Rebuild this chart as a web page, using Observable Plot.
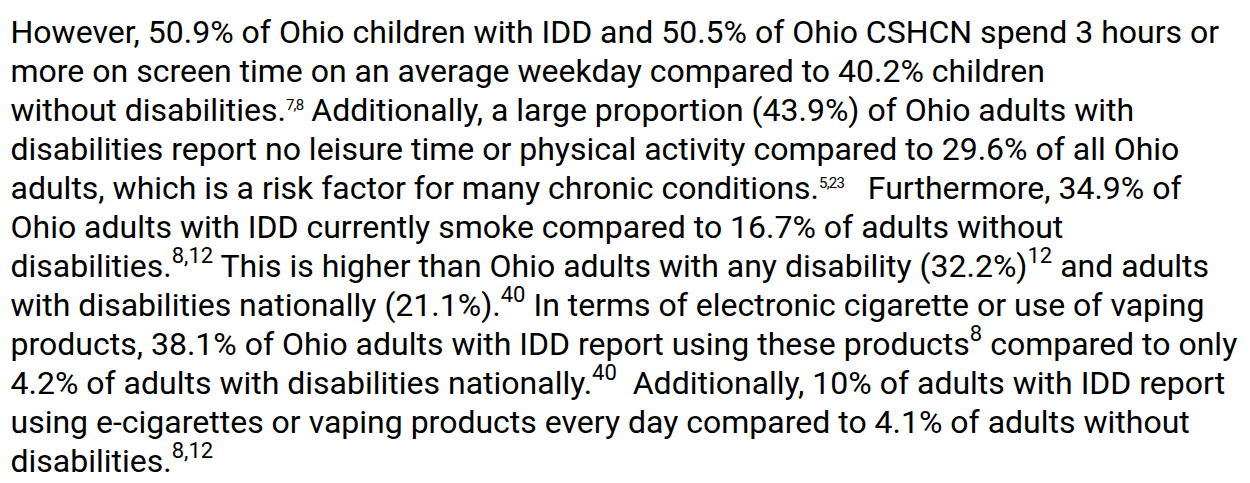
<!DOCTYPE html>
<html>
<head>
<meta charset="utf-8">
<script src="https://cdn.jsdelivr.net/npm/d3@7"></script>
<script src="https://cdn.jsdelivr.net/npm/@observablehq/plot@0.6"></script>
<style>
  html, body { margin: 0; padding: 0; background: #ffffff; }
  #chart svg text { white-space: pre; }
</style>
</head>
<body>
<div id="chart"></div>
<script>
// Paragraph lines as they break in the reference.
// {..} = small superscript note refs, [..] = larger superscript note refs
const lines = [
  "However, 50.9% of Ohio children with IDD and 50.5% of Ohio CSHCN spend 3 hours or",
  "more on screen time on an average weekday compared to 40.2% children",
  "without disabilities.{7,8} Additionally, a large proportion (43.9%) of Ohio adults with",
  "disabilities report no leisure time or physical activity compared to 29.6% of all Ohio",
  "adults, which is a risk factor for many chronic conditions.{5,23}   Furthermore, 34.9% of",
  "Ohio adults with IDD currently smoke compared to 16.7% of adults without",
  "disabilities.[8,12] This is higher than Ohio adults with any disability (32.2%)[12] and adults",
  "with disabilities nationally (21.1%).[40] In terms of electronic cigarette or use of vaping",
  "products, 38.1% of Ohio adults with IDD report using these products[8] compared to only",
  "4.2% of adults with disabilities nationally.[40]  Additionally, 10% of adults with IDD report",
  "using e-cigarettes or vaping products every day compared to 4.1% of adults without",
  "disabilities.[8,12]"
];
const lineIndex = lines.map((_, i) => i);

const FONT = 32;
const data = lines.map((t, i) => ({line: i, text: t}));

const chart = Plot.plot({
  width: 1250,
  height: 483,
  margin: 0,
  style: {background: "#ffffff", fontFamily: "Roboto, 'Noto Sans', sans-serif", color: "#000"},
  x: {domain: [0, 1], range: [10, 1240], axis: null},
  y: {type: "point", domain: lineIndex, range: [39, 473], padding: 0, axis: null},
  marks: [
    Plot.text(data, {
      x: () => 0,
      y: "line",
      text: "text",
      textAnchor: "start",
      lineAnchor: "bottom",
      fontSize: FONT,
      fill: "#000000"
    })
  ]
});
document.getElementById("chart").appendChild(chart);

// Turn the {..} / [..] markers into superscript tspans, text baseline on the line position.
const SVGNS = "http://www.w3.org/2000/svg";
chart.querySelectorAll("text").forEach(el => {
  const raw = el.textContent;
  el.textContent = "";
  el.setAttribute("y", "0");
  el.removeAttribute("dy");
  const re = /\{([^}]*)\}|\[([^\]]*)\]/g;
  let last = 0, m, shift = 0;
  const add = (txt, opts) => {
    const ts = document.createElementNS(SVGNS, "tspan");
    ts.textContent = txt;
    if (opts) {
      ts.setAttribute("font-size", opts.size);
      if (opts.ls) ts.setAttribute("letter-spacing", opts.ls);
      ts.setAttribute("dy", -opts.rise - shift);
      shift = -opts.rise;
    } else if (shift !== 0) {
      ts.setAttribute("dy", -shift);
      shift = 0;
    }
    el.appendChild(ts);
  };
  while ((m = re.exec(raw))) {
    if (m.index > last) add(raw.slice(last, m.index));
    if (m[1] !== undefined) add(m[1], {size: 15, rise: 11, ls: -0.8});
    else add(m[2], {size: 22, rise: 14});
    last = re.lastIndex;
  }
  if (last < raw.length) add(raw.slice(last));
});
</script>
</body>
</html>
